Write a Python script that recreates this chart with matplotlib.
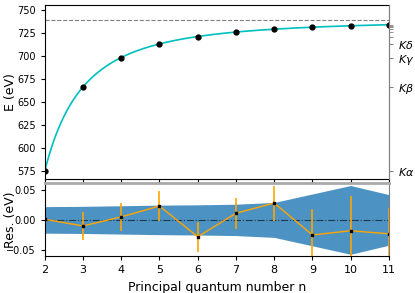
import numpy as np
import matplotlib
matplotlib.use('Agg')
import matplotlib.pyplot as plt

# Data
n = np.array([2, 3, 4, 5, 6, 7, 8, 9, 10, 11])
energy = np.array([575.0, 666.2, 698.3, 713.3, 721.1, 726.0, 729.1, 731.4,
                   732.9, 734.0])
residuals = np.array([0.001, -0.010, 0.005, 0.023, -0.028, 0.011, 0.028,
                      -0.025, -0.018, -0.023])
errors = np.array([0.022, 0.0225, 0.0235, 0.0245, 0.025, 0.026, 0.029,
                   0.043, 0.057, 0.042])
line_labels = [r'$K\alpha$', r'$K\beta$', r'$K\gamma$', r'$K\delta$']

# Rydberg-like fit E = E_inf - A / n^2
slope, e_inf = np.polyfit(1.0 / n**2, energy, 1)
n_fine = np.linspace(n.min(), n.max(), 300)
e_fit = e_inf + slope / n_fine**2

plt.rcParams['font.size'] = 7
fig = plt.figure(figsize=(4.15, 2.93), dpi=100)
ax1 = fig.add_axes([0.108, 0.389, 0.829, 0.594])
ax2 = fig.add_axes([0.108, 0.126, 0.829, 0.249], sharex=ax1)

ax1.plot(n_fine, e_fit, color='c', linewidth=1.2)
ax1.plot(n, energy, 'o', color='k', markersize=3.5)
ax1.axhline(e_inf, color='gray', linestyle='--', linewidth=0.8)
ax1.set_ylabel('E (eV)', fontsize=9)
ax1.yaxis.set_label_coords(-0.08, 0.5)
ax1.set_ylim(566, 755.5)
ax1.set_yticks(np.arange(575, 751, 25))
ax1.tick_params(labelbottom=False, length=3)
ax1.spines['right'].set_color('gray')

ax1r = ax1.twinx()
ax1r.set_ylim(ax1.get_ylim())
ax1r.set_yticks(energy[:4])
ax1r.set_yticklabels(line_labels, fontsize=8)
ax1r.set_yticks(energy[4:], minor=True)
ax1r.tick_params(axis='y', which='both', length=3, color='gray')
for side in ['left', 'top', 'bottom']:
    ax1r.spines[side].set_visible(False)
ax1r.spines['right'].set_color('gray')

ax2.fill_between(n, -errors, errors, color='tab:blue', alpha=0.8,
                 linewidth=0)
ax2.axhline(0, color='k', linestyle='-.', linewidth=0.8, alpha=0.6)
ax2.errorbar(n, residuals, yerr=errors, color='orange', linewidth=1,
             elinewidth=1.2, marker='s', markersize=2, mfc='k', mec='k')
ax2.set_xlim(2, 11)
ax2.set_ylim(-0.06, 0.061)
ax2.set_yticks([-0.05, 0, 0.05])
ax2.set_ylabel('Res. (eV)', fontsize=9)
ax2.yaxis.set_label_coords(-0.08, 0.5)
ax2.set_xlabel('Principal quantum number n', fontsize=9)
ax2.tick_params(length=3, labelsize=8)
ax2.tick_params(axis='y', labelsize=7)
ax2.spines['top'].set_color('darkgray')
ax2.spines['top'].set_linewidth(2)
ax2.spines['right'].set_color('gray')

fig.savefig('out.png', dpi=100)
